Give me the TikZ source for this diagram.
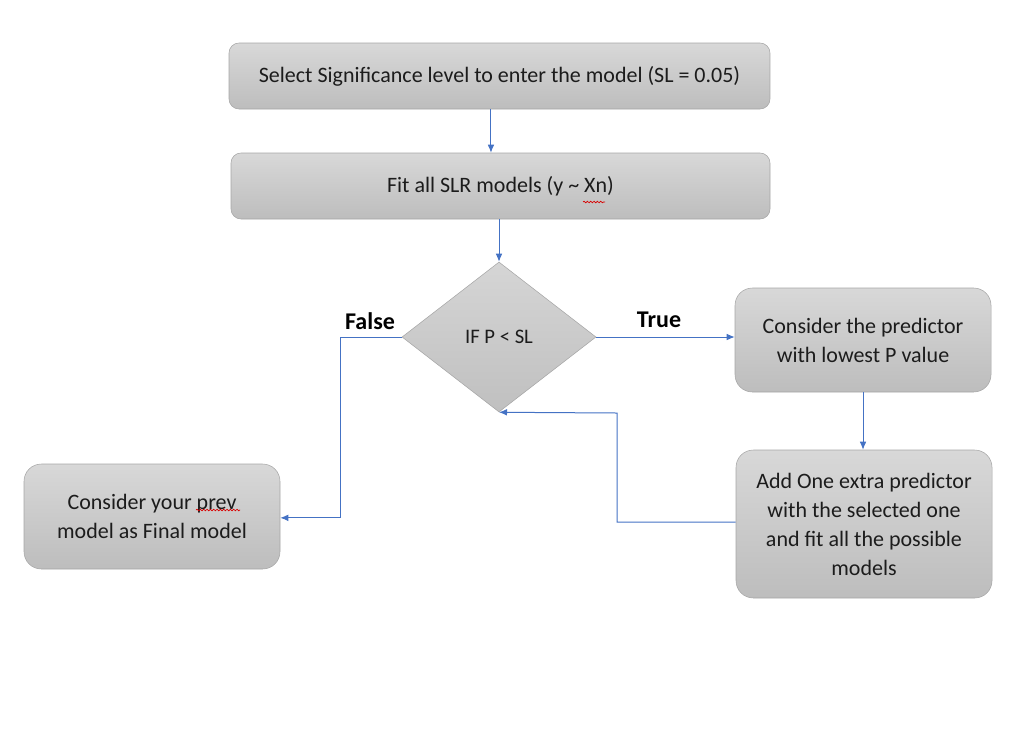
\documentclass[tikz,border=0pt]{standalone}
\usepackage{fontspec}
\setmainfont{Carlito}
\usetikzlibrary{shapes,arrows.meta,positioning,calc}
\usetikzlibrary{decorations.pathmorphing}
\definecolor{boxline}{HTML}{A6A6A6}
\definecolor{boxtop}{HTML}{D8D8D8}
\definecolor{boxbot}{HTML}{BDBDBD}
\definecolor{flowblue}{HTML}{4472C4}
\definecolor{txt}{HTML}{1C1C1C}

\begin{document}
\begin{tikzpicture}[x=0.75pt,y=-0.75pt,
  stepbox/.style={draw=boxline, top color=boxtop, bottom color=boxbot, rounded corners=13pt,
    align=center, text=txt, inner sep=0pt, font=\fontsize{16.5}{21.75}\selectfont},
  decbox/.style={diamond, draw=boxline, top color=boxtop!90!boxbot, bottom color=boxbot!90!boxtop,
    inner sep=0pt, minimum width=145.5pt, minimum height=112.5pt, text=txt,
    font=\fontsize{15.5}{17}\selectfont},
  flow/.style={flowblue, line width=0.75pt, -{Latex[length=6pt,width=5pt]}},
  branch/.style={text=black, font=\bfseries\fontsize{18}{20}\selectfont},
  spell/.style={red!85!black, line width=0.5pt, decorate, decoration={snake, amplitude=0.6pt, segment length=2.5pt}}]
\useasboundingbox (0,0) rectangle (1019,740);
% steps
\node[stepbox, rounded corners=7.5pt, minimum width=405.75pt, minimum height=49.5pt] (sel) at (499.5,76) {Select Significance level to enter the model (SL = 0.05)};
\node[stepbox, rounded corners=7.5pt, minimum width=404.25pt, minimum height=49.5pt] (fit) at (500.5,186) {Fit all SLR models (y \char`~\ Xn)};
\node[decbox] (dec) at (499,337) {IF P < SL};
\node[stepbox, minimum width=192pt, minimum height=78pt] (cons) at (863,340) {Consider the predictor\\with lowest P value};
\node[stepbox, minimum width=192pt, minimum height=111pt] (add) at (864,524) {Add One extra predictor\\with the selected one\\and fit all the possible\\models};
\node[stepbox, minimum width=192pt, minimum height=78.75pt] (final) at (152,516.5) {Consider your prev\\model as Final model};
% branch labels
\node[branch] (no) at (370,321) {False};
\node[branch] (yes) at (659,320) {True};
% corners
\coordinate (fcorner) at (340,337);
\coordinate (loop) at (617,413);
% connectors
\draw[flow] ([xshift=-6.4pt]sel.south) -- ([xshift=-6.4pt]sel.south |- fit.north);
\draw[flow] (dec.north |- fit.south) -- (dec.north);
\draw[flow] (dec.east) -- (dec.east -| cons.west);
\draw[flow] (cons.south) -- (cons.south |- add.north);
\draw[flow] ([yshift=1.5pt]add.west) -| (loop) -- (dec.south);
\draw[flow] (dec.west) -- (fcorner) |- ([yshift=-1pt]final.east);
% spell check marks
\draw[spell] (583,202) -- (605,202);
\draw[spell] (196,510) -- (240,510);
\end{tikzpicture}
\end{document}
